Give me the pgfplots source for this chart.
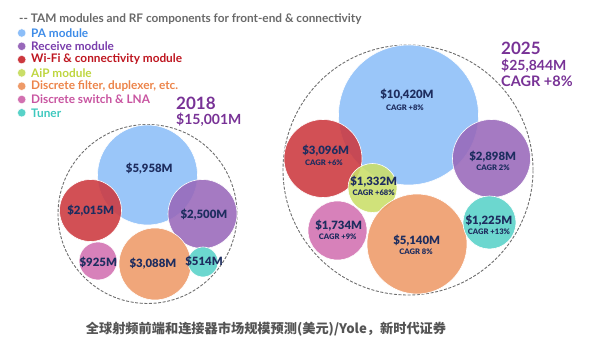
\documentclass[border=0pt]{standalone}
\usepackage{pgfplots}
\pgfplotsset{compat=1.18}
\usepackage{pgfplotstable}
\usepackage{fontspec}
\setmainfont{Lato}
\newfontfamily\heavy{Lato Black}
\newfontfamily\cjk{Noto Sans CJK SC}

\definecolor{cPA}{RGB}{140,190,248}
\definecolor{cRX}{RGB}{152,104,186}
\definecolor{cWF}{RGB}{204,56,62}
\definecolor{cAIP}{RGB}{202,222,104}
\definecolor{cFI}{RGB}{238,154,104}
\definecolor{cSW}{RGB}{210,112,176}
\definecolor{cTU}{RGB}{88,210,200}
\definecolor{tPA}{RGB}{62,140,232}
\definecolor{tRX}{RGB}{122,62,172}
\definecolor{tWF}{RGB}{190,22,32}
\definecolor{tAIP}{RGB}{190,214,64}
\definecolor{tFI}{RGB}{236,132,74}
\definecolor{tSW}{RGB}{200,84,160}
\definecolor{tTU}{RGB}{62,200,190}
\definecolor{navy}{RGB}{30,45,95}
\definecolor{yr}{RGB}{120,50,150}
\definecolor{gtxt}{RGB}{105,105,105}
\definecolor{dash}{RGB}{110,110,110}

% bubbles: x y (pixels, y downward), r (radius, px), class
\pgfplotstableread{
x y r c
147.5 175 50 pa
90.5 210.5 31 wf
202.5 214 34.5 rx
98 261 19 sw
155 264 36 fi
203 262 15 tu
}\bubblesA
\pgfplotstableread{
x y r c
408.5 115 70 pa
323 158.5 39 wf
491.5 158.5 39 rx
372.5 188 24.5 aip
337.5 230.5 29.5 sw
417 244 50 fi
489.5 222.5 26.5 tu
}\bubblesB
\pgfplotstableread{
x y r
147.5 214 89.5
408 170 125
}\outer
\pgfplotstableread{
x y r c
21.7 33 4.2 pa
21.7 46.3 4.2 rx
21.7 59.6 4.2 wf
21.7 72.9 4.2 aip
21.7 86.2 4.2 fi
21.7 99.5 4.2 sw
21.7 112.8 4.2 tu
}\legdots

\begin{document}
\begin{tikzpicture}
\begin{axis}[
  set layers,
  width=589pt, height=350pt, scale only axis,
  xmin=0, xmax=589, ymin=0, ymax=350, y dir=reverse,
  hide axis, clip=false,
  scatter/classes={
    pa={mark=*,fill=cPA,draw=white},
    rx={mark=*,fill=cRX,draw=white},
    wf={mark=*,fill=cWF,draw=white},
    aip={mark=*,fill=cAIP,draw=white},
    fi={mark=*,fill=cFI,draw=white},
    sw={mark=*,fill=cSW,draw=white},
    tu={mark=*,fill=cTU,draw=white}},
]
\path (axis cs:0,0) rectangle (axis cs:589,350);
% outer dashed circles
\addplot[only marks, mark=o, mark options={draw=dash, line width=0.9pt, dash pattern=on 3pt off 1.6pt},
  visualization depends on={\thisrow{r} \as \rad},
  scatter, scatter/use mapped color={draw=dash},
  scatter/@pre marker code/.append style={/tikz/mark size=\rad}]
  table[x=x,y=y] {\outer};
\addplot[scatter, only marks, point meta=explicit symbolic,
  mark options={fill opacity=0.88, line width=0.6pt},
  visualization depends on={\thisrow{r} \as \rad},
  scatter/@pre marker code/.append style={/tikz/mark size=\rad}]
  table[x=x,y=y,meta=c] {\bubblesA};
\addplot[scatter, only marks, point meta=explicit symbolic,
  mark options={fill opacity=0.88, line width=0.6pt},
  visualization depends on={\thisrow{r} \as \rad},
  scatter/@pre marker code/.append style={/tikz/mark size=\rad}]
  table[x=x,y=y,meta=c] {\bubblesB};
\addplot[scatter, only marks, point meta=explicit symbolic,
  mark options={draw=none},
  visualization depends on={\thisrow{r} \as \rad},
  scatter/@pre marker code/.append style={/tikz/mark size=\rad}]
  table[x=x,y=y,meta=c] {\legdots};

\begin{pgfonlayer}{axis foreground}
% legend texts
\begin{scope}[every node/.style={anchor=west, font=\bfseries\fontsize{11.8}{13}\selectfont, inner sep=0pt}]
\node[text=gtxt] at (axis cs:19,19) {-{}- TAM modules and RF components for front-end \& connectivity};
\node[text=tPA] at (axis cs:31,33) {PA module};
\node[text=tRX] at (axis cs:31,46.3) {Receive module};
\node[text=tWF] at (axis cs:31,59.6) {Wi-Fi \& connectivity module};
\node[text=tAIP] at (axis cs:31,72.9) {AiP module};
\node[text=tFI] at (axis cs:31,86.2) {Discrete filter, duplexer, etc.};
\node[text=tSW] at (axis cs:31,99.5) {Discrete switch \& LNA};
\node[text=tTU] at (axis cs:31,112.8) {Tuner};
\end{scope}

% year labels
\begin{scope}[every node/.style={anchor=west, text=yr, inner sep=0pt}]
\node[font=\bfseries\fontsize{17}{19}\selectfont] at (axis cs:176,103.5) {2018};
\node[font=\bfseries\fontsize{14}{16}\selectfont] at (axis cs:176,119.5) {\$15,001M};
\node[font=\bfseries\fontsize{17}{19}\selectfont] at (axis cs:501,48.5) {2025};
\node[font=\bfseries\fontsize{14}{16}\selectfont] at (axis cs:501,66) {\$25,844M};
\node[font=\bfseries\fontsize{14.5}{16}\selectfont] at (axis cs:501,81) {CAGR +8\%};
\end{scope}

% bubble labels
\begin{scope}[every node/.style={text=navy, inner sep=0pt, font=\heavy\fontsize{11.4}{13}\selectfont}]
\node at (axis cs:149.3,169) {\$5,958M};
\node at (axis cs:90.7,210.7) {\$2,015M};
\node at (axis cs:204,215) {\$2,500M};
\node at (axis cs:98.3,262) {\$925M};
\node at (axis cs:153,264) {\$3,088M};
\node at (axis cs:204,261.7) {\$514M};
\node at (axis cs:407,95) {\$10,420M};
\node at (axis cs:325.7,151) {\$3,096M};
\node at (axis cs:373.7,182) {\$1,332M};
\node at (axis cs:492.7,156.7) {\$2,898M};
\node at (axis cs:338.7,225.7) {\$1,734M};
\node at (axis cs:416.7,240.7) {\$5,140M};
\node at (axis cs:489,220.7) {\$1,225M};
\end{scope}
\begin{scope}[every node/.style={text=navy, inner sep=0pt, font=\heavy\fontsize{7.6}{9}\selectfont}]
\node at (axis cs:405,108) {CAGR +8\%};
\node at (axis cs:324,163) {CAGR +6\%};
\node at (axis cs:373.7,192.7) {CAGR +68\%};
\node at (axis cs:493,168) {CAGR 2\%};
\node at (axis cs:337.7,236.7) {CAGR +9\%};
\node at (axis cs:416,252) {CAGR 8\%};
\node at (axis cs:489,231.7) {CAGR +13\%};
\end{scope}

% caption
\node[text=gtxt!80!black, inner sep=0pt, font=\cjk\bfseries\fontsize{13.2}{15}\selectfont] at (axis cs:266,329) {全球射频前端和连接器市场规模预测(美元)/Yole，新时代证券};
\end{pgfonlayer}
\end{axis}
\end{tikzpicture}
\end{document}
